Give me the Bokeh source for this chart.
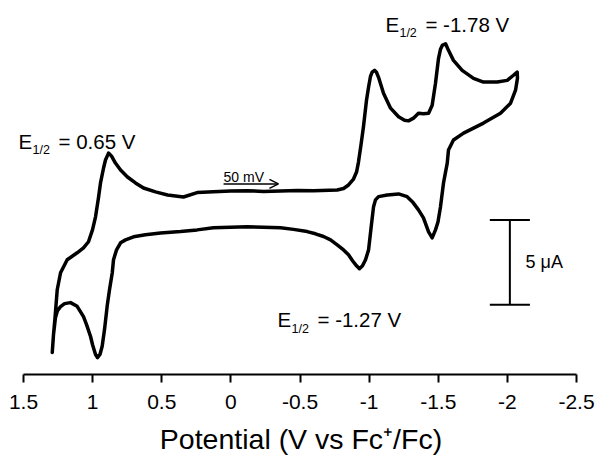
from bokeh.plotting import figure
from bokeh.models import Range1d, Label, Arrow, OpenHead, FixedTicker
from bokeh.embed import file_html
from bokeh.resources import INLINE

# Cyclic voltammogram, potential in V vs Fc+/Fc, current in uA (arbitrary offset)
fwd_potential = [1.292, 1.283, 1.272, 1.256, 1.232, 1.184, 1.112, 1.066, 1.030, 1.001,
                 0.979, 0.958, 0.943, 0.921, 0.907, 0.885, 0.863, 0.835, 0.798, 0.748,
                 0.690, 0.632, 0.545, 0.458, 0.343, 0.244, 0.126, 0.003, -0.118, -0.236,
                 -0.359, -0.482, -0.598, -0.769, -0.815, -0.851, -0.887, -0.909, -0.923, -0.941,
                 -0.959, -0.981, -0.996, -1.010, -1.022, -1.039, -1.053, -1.068, -1.104, -1.155,
                 -1.213, -1.256, -1.285, -1.321, -1.357, -1.393, -1.430, -1.456, -1.480, -1.502,
                 -1.516, -1.529, -1.553, -1.574, -1.610, -1.673, -1.755, -1.827, -1.926, -1.999,
                 -2.044, -2.071]
fwd_current = [1.24, 2.29, 3.29, 4.94, 5.94, 6.71, 7.12, 7.41, 7.77, 8.47,
               9.24, 10.35, 11.24, 12.12, 12.59, 13.00, 12.82, 12.41, 12.00, 11.59,
               11.24, 10.94, 10.71, 10.53, 10.41, 10.67, 10.72, 10.77, 10.78, 10.74,
               10.77, 10.79, 10.78, 10.82, 10.91, 11.12, 11.47, 11.88, 12.47, 13.47,
               14.55, 16.12, 16.90, 17.53, 17.78, 17.88, 17.77, 17.47, 16.53, 15.65,
               15.14, 14.94, 14.90, 15.06, 15.35, 15.32, 15.35, 15.82, 17.12, 18.59,
               19.12, 19.35, 19.45, 19.06, 18.47, 17.88, 17.41, 17.19, 17.19, 17.29,
               17.59, 17.78]
rev_potential = [-2.073, -2.059, -2.023, -1.950, -1.827, -1.683, -1.610, -1.574, -1.565, -1.538,
                 -1.516, -1.498, -1.480, -1.456, -1.430, -1.393, -1.357, -1.314, -1.275, -1.213,
                 -1.131, -1.068, -1.046, -1.032, -1.014, -0.996, -0.974, -0.952, -0.930, -0.909,
                 -0.880, -0.851, -0.815, -0.769, -0.721, -0.670, -0.612, -0.552, -0.453, -0.359,
                 -0.236, -0.118, 0.003, 0.126, 0.244, 0.364, 0.509, 0.618, 0.704, 0.762,
                 0.798, 0.827, 0.849, 0.858, 0.878, 0.895, 0.914, 0.931, 0.947, 0.965,
                 0.979, 1.001, 1.015, 1.044, 1.066, 1.112, 1.160, 1.203, 1.232, 1.254,
                 1.269, 1.283, 1.292]
rev_current = [17.41, 16.71, 15.94, 15.35, 14.77, 14.18, 13.77, 13.18, 12.41, 11.24,
               9.82, 8.94, 8.47, 8.00, 8.35, 9.18, 9.65, 10.12, 10.43, 10.59,
               10.53, 10.43, 10.24, 9.84, 8.59, 7.29, 6.71, 6.35, 6.18, 6.35,
               6.65, 7.00, 7.29, 7.59, 7.88, 8.08, 8.24, 8.37, 8.50, 8.59,
               8.62, 8.65, 8.62, 8.59, 8.47, 8.37, 8.29, 8.18, 8.06, 7.88,
               7.71, 7.29, 6.71, 5.94, 4.94, 3.96, 2.59, 1.61, 1.12, 0.94,
               1.12, 1.71, 2.18, 2.88, 3.35, 3.96, 4.18, 4.12, 3.94, 3.71,
               3.29, 2.29, 1.24]

tick_values = [1.5, 1, 0.5, 0, -0.5, -1, -1.5, -2, -2.5]
tick_labels = ["1.5", "1", "0.5", "0", "-0.5", "-1", "-1.5", "-2", "-2.5"]

# E1/2 annotations: (value text, anchor potential, anchor current)
e_half_texts = ["= 0.65 V", "= -1.78 V", "= -1.27 V"]
e_half_x = [1.536, -1.118, -0.337]
e_half_y = [13.71, 20.59, 3.18]

scale_bar_uA = 5
scale_bar_x = -2.018
scale_bar_y0 = 4.06
scale_cap_half = 0.145

scan_rate_text = "50 mV"
scan_arrow_x = [0.053, -0.344]
scan_arrow_y = 11.18

FONT = "Liberation Sans"

p = figure(width=601, height=457, output_backend="svg", toolbar_location=None,
           x_range=Range1d(1.6664, -2.6808), y_range=Range1d(-0.06, 22.0),
           min_border_left=0, min_border_right=0, min_border_top=0, min_border_bottom=0)
p.outline_line_color = None
p.grid.visible = False
p.yaxis.visible = False
p.background_fill_color = "white"
p.border_fill_color = "white"

potential = fwd_potential + rev_potential
current = fwd_current + rev_current
p.line(potential, current, line_color="black", line_width=3.5, line_join="round", line_cap="round")

ax = p.xaxis[0]
ax.ticker = FixedTicker(ticks=tick_values)
ax.major_label_overrides = {v: t for v, t in zip(tick_values, tick_labels)}
ax.bounds = (-2.5, 1.5)
ax.axis_line_width = 2
ax.axis_line_color = "black"
ax.major_tick_line_width = 2
ax.major_tick_line_color = "black"
ax.major_tick_in = 0
ax.major_tick_out = 8
ax.minor_tick_line_color = None
ax.major_label_text_font = FONT
ax.major_label_text_font_size = "21px"
ax.major_label_text_color = "black"
ax.major_label_standoff = 12
ax.axis_label = "Potential (V vs Fc\u207a/Fc)"
ax.axis_label_text_font = FONT
ax.axis_label_text_font_size = "28.5px"
ax.axis_label_text_font_style = "normal"
ax.axis_label_text_color = "black"
ax.axis_label_standoff = 11

for txt, x, y in zip(e_half_texts, e_half_x, e_half_y):
    p.add_layout(Label(x=x, y=y, text="E", text_font=FONT, text_font_size="20.5px",
                       text_baseline="alphabetic", text_color="black"))
    p.add_layout(Label(x=x, y=y, x_offset=14, y_offset=-9, text="1/2", text_font=FONT,
                       text_font_size="12.5px", text_baseline="alphabetic", text_color="black"))
    p.add_layout(Label(x=x, y=y, x_offset=40, text=txt, text_font=FONT, text_font_size="20.5px",
                       text_baseline="alphabetic", text_color="black"))

# scale bar
p.segment(x0=[scale_bar_x, scale_bar_x - scale_cap_half, scale_bar_x - scale_cap_half],
          y0=[scale_bar_y0, scale_bar_y0, scale_bar_y0 + scale_bar_uA],
          x1=[scale_bar_x, scale_bar_x + scale_cap_half, scale_bar_x + scale_cap_half],
          y1=[scale_bar_y0 + scale_bar_uA, scale_bar_y0, scale_bar_y0 + scale_bar_uA],
          line_color="black", line_width=2)
p.add_layout(Label(x=scale_bar_x - scale_cap_half * 0.78, y=scale_bar_y0 + scale_bar_uA / 2,
                   text="5 \u03bcA", text_font=FONT, text_font_size="18px",
                   text_baseline="middle", text_color="black"))

# scan rate arrow
p.add_layout(Arrow(end=OpenHead(size=9, line_width=1.5, line_color="black"),
                   x_start=scan_arrow_x[0], y_start=scan_arrow_y,
                   x_end=scan_arrow_x[1], y_end=scan_arrow_y,
                   line_width=1.5, line_color="black"))
p.add_layout(Label(x=scan_arrow_x[0], y=scan_arrow_y, y_offset=7, text=scan_rate_text,
                   text_font=FONT, text_font_size="14px", text_baseline="alphabetic",
                   text_color="black"))

open("out.html", "w").write(file_html(p, INLINE))
